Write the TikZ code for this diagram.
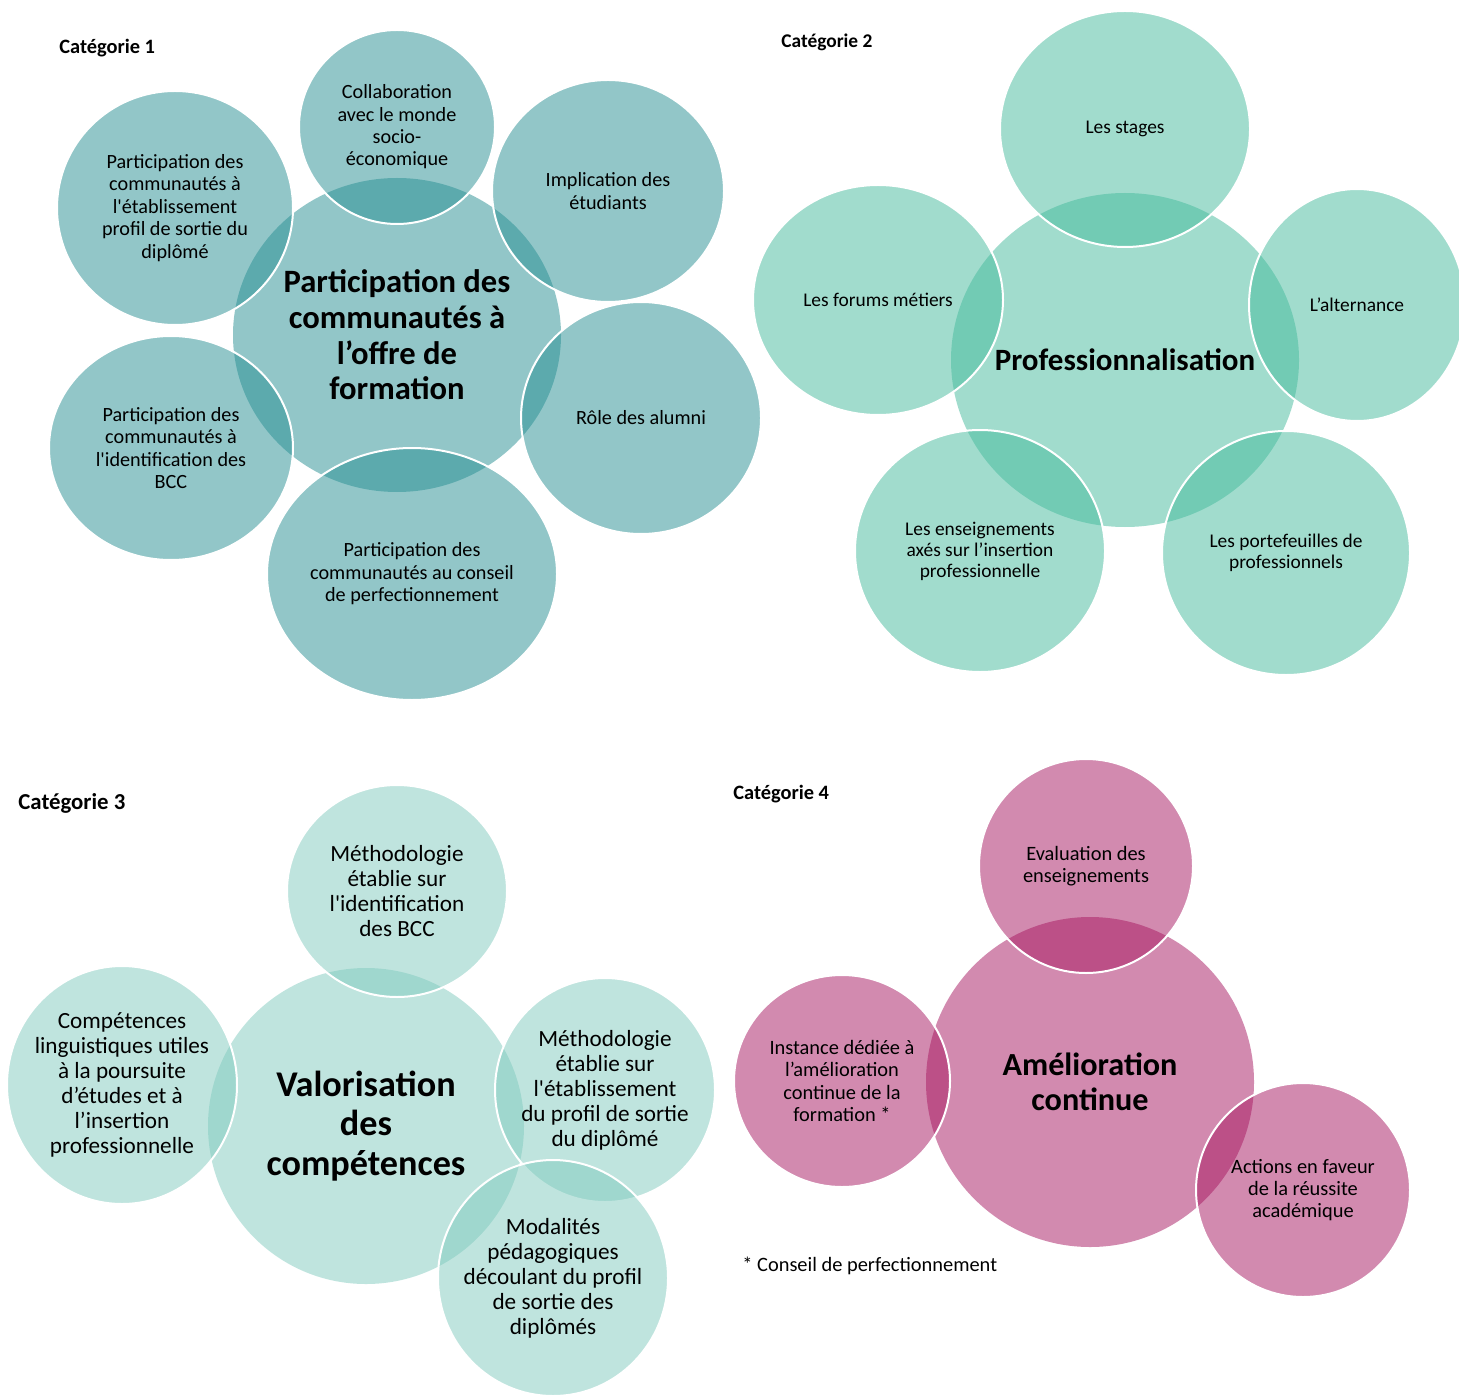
\documentclass[tikz,border=0pt]{standalone}
\usepackage{fontspec}
\setmainfont{Carlito}
\usetikzlibrary{shapes.geometric}
\definecolor{bleuUn}{RGB}{39,143,147}
\definecolor{vertDeux}{RGB}{69,187,157}
\definecolor{vertTrois}{RGB}{129,203,191}
\definecolor{roseQuatre}{RGB}{167,23,97}
\begin{document}
\begin{tikzpicture}[x=0.5pt,y=-0.5pt,
		bulle/.style={ellipse, inner sep=0pt, draw=white, line width=1pt, fill opacity=0.5},
		coeur/.style={bulle, draw=none},
		taille/.style 2 args={minimum width=#1pt, minimum height=#2pt},
		texte/.style 2 args={align=center, inner sep=0pt, font=\fontsize{#1}{#2}\selectfont},
		gras/.style 2 args={align=center, inner sep=0pt, font=\fontsize{#1}{#2}\selectfont\bfseries},
		categ/.style={anchor=west, inner sep=0pt, font=\fontsize{10.2}{12}\selectfont\bfseries}]
		\useasboundingbox[fill=white] (0,0) rectangle (1459,1395);

		% categorie 1
		\node[categ] (cat1) at (59,48) {Catégorie 1};
		\node[coeur, fill=bleuUn, taille={164}{157}] (c1) at (397,335) {};
		\node[bulle, fill=bleuUn, taille={98}{97}] (c1collab) at (397,127) {};
		\node[bulle, fill=bleuUn, taille={118}{117}] (c1etab) at (175,208) {};
		\node[bulle, fill=bleuUn, taille={116}{111}] (c1implic) at (608,191) {};
		\node[bulle, fill=bleuUn, taille={120}{116}] (c1alumni) at (641,418) {};
		\node[bulle, fill=bleuUn, taille={122}{112}] (c1bcc) at (171,448) {};
		\node[bulle, fill=bleuUn, taille={145}{126}] (c1conseil) at (412,574) {};
		\node[gras={16.3}{17.8}] (c1-t) at (c1) {Participation des\\communautés à\\l’offre de\\formation};
		\node[texte={10.1}{11.2}] (c1collab-t) at (c1collab) {Collaboration\\avec le monde\\socio-\\économique};
		\node[texte={10.1}{11.2}] (c1etab-t) at (c1etab) {Participation des\\communautés à\\l\textquotesingle établissement\\profil de sortie du\\diplômé};
		\node[texte={10.1}{11.2}] (c1implic-t) at (c1implic) {Implication des\\étudiants};
		\node[texte={10.1}{11.2}] (c1alumni-t) at (c1alumni) {Rôle des alumni};
		\node[texte={10.1}{11.2}] (c1bcc-t) at (c1bcc) {Participation des\\communautés à\\l\textquotesingle identification des\\BCC};
		\node[texte={10.1}{11.2}] (c1conseil-t) at (c1conseil) {Participation des\\communautés au conseil\\de perfectionnement};

		% categorie 2
		\node[categ, font=\fontsize{9.7}{12}\selectfont\bfseries] (cat2) at (781,42) {Catégorie 2};
		\node[coeur, fill=vertDeux, taille={174}{167}] (c2) at (1125,360) {};
		\node[bulle, fill=vertDeux, taille={125}{118}] (c2stages) at (1125,129) {};
		\node[bulle, fill=vertDeux, taille={125}{115}] (c2forums) at (878,300) {};
		\node[bulle, fill=vertDeux, taille={108}{116}] (c2altern) at (1357,305) {};
		\node[bulle, fill=vertDeux, taille={125}{121}] (c2ensei) at (980,551) {};
		\node[bulle, fill=vertDeux, taille={124}{122}] (c2portef) at (1286,553) {};
		\node[gras={15.5}{17.8}] (c2-t) at (c2) {Professionnalisation};
		\node[texte={9.7}{10.5}] (c2stages-t) at (c2stages) {Les stages};
		\node[texte={9.7}{10.5}] (c2forums-t) at (c2forums) {Les forums métiers};
		\node[texte={9.7}{10.5}] (c2altern-t) at (c2altern) {L’alternance};
		\node[texte={9.7}{10.5}] (c2ensei-t) at (c2ensei) {Les enseignements\\axés sur l’insertion\\professionnelle};
		\node[texte={9.7}{10.5}] (c2portef-t) at (c2portef) {Les portefeuilles de\\professionnels};

		% categorie 3
		\node[categ, font=\fontsize{11.4}{13}\selectfont\bfseries] (cat3) at (18,803) {Catégorie 3};
		\node[coeur, fill=vertTrois, taille={158}{158}] (c3) at (366,1126) {};
		\node[bulle, fill=vertTrois, taille={110}{106}] (c3bcc) at (397,891) {};
		\node[bulle, fill=vertTrois, taille={115}{119}] (c3ling) at (122,1085) {};
		\node[bulle, fill=vertTrois, taille={110}{112}] (c3profil) at (605,1090) {};
		\node[bulle, fill=vertTrois, taille={115}{118}] (c3modal) at (553,1278) {};
		\node[gras={18.1}{19.8}] (c3-t) at (c3) {Valorisation\\des\\compétences};
		\node[texte={11.6}{12.5}] (c3bcc-t) at (c3bcc) {Méthodologie\\établie sur\\l\textquotesingle identification\\des BCC};
		\node[texte={11.6}{12.5}] (c3ling-t) at (c3ling) {Compétences\\linguistiques utiles\\à la poursuite\\d’études et à\\l’insertion\\professionnelle};
		\node[texte={11.6}{12.5}] (c3profil-t) at (c3profil) {Méthodologie\\établie sur\\l\textquotesingle établissement\\du profil de sortie\\du diplômé};
		\node[texte={11.6}{12.5}] (c3modal-t) at (c3modal) {Modalités\\pédagogiques\\découlant du profil\\de sortie des\\diplômés};

		% categorie 4
		\node[categ] (cat4) at (733,794) {Catégorie 4};
		\node[coeur, fill=roseQuatre, taille={164}{165}] (c4) at (1090,1082) {};
		\node[bulle, fill=roseQuatre, taille={107}{107}] (c4eval) at (1086,866) {};
		\node[bulle, fill=roseQuatre, taille={108}{106}] (c4inst) at (842,1081) {};
		\node[bulle, fill=roseQuatre, taille={107}{107}] (c4actions) at (1303,1190) {};
		\node[gras={16.1}{17.5}] (c4-t) at (c4) {Amélioration\\continue};
		\node[texte={10.2}{11.2}] (c4eval-t) at (c4eval) {Evaluation des\\enseignements};
		\node[texte={10.2}{11.2}] (c4inst-t) at (c4inst) {Instance dédiée à\\l’amélioration\\continue de la\\formation *};
		\node[texte={10.2}{11.2}] (c4actions-t) at (c4actions) {Actions en faveur\\de la réussite\\académique};
		\node[texte={10.2}{11.2}, anchor=west] (note) at (742,1266) {* Conseil de perfectionnement};
	\end{tikzpicture}
\end{document}
